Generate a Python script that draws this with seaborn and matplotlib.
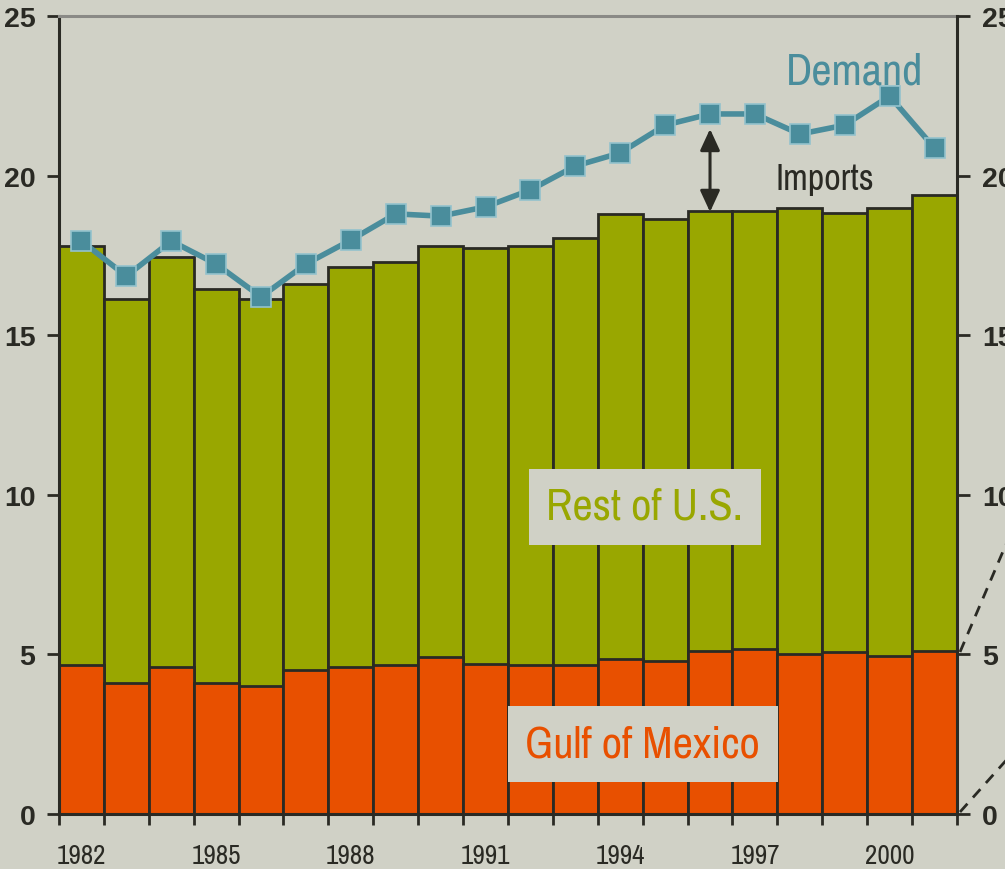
import numpy as np
import pandas as pd
import matplotlib
matplotlib.use("Agg")
import matplotlib.pyplot as plt
from matplotlib.lines import Line2D
import seaborn as sns

# Natural gas: production by region and total demand (trillion cubic feet)
years = list(range(1982, 2002))
gulf_of_mexico = [4.67, 4.10, 4.60, 4.10, 4.01, 4.51, 4.60, 4.68, 4.92, 4.70,
                  4.67, 4.67, 4.86, 4.79, 5.10, 5.17, 5.01, 5.08, 4.95, 5.10]
total_production = [17.79, 16.13, 17.45, 16.45, 16.13, 16.60, 17.14, 17.29, 17.79, 17.72,
                    17.79, 18.04, 18.80, 18.64, 18.89, 18.89, 18.98, 18.83, 18.98, 19.39]
demand = [17.95, 16.85, 17.95, 17.23, 16.20, 17.23, 17.98, 18.80, 18.73, 19.02,
          19.55, 20.30, 20.71, 21.58, 21.93, 21.93, 21.30, 21.58, 22.49, 20.86]
labeled_years = [1982, 1985, 1988, 1991, 1994, 1997, 2000]
y_ticks = [0, 5, 10, 15, 20, 25]

BG = "#d0d1c6"
OLIVE = "#99a700"
ORANGE = "#e85000"
TEAL = "#4a8d9c"
INK = "#2a2a24"

NARROW = ["Archivo Narrow", "PT Sans Narrow", "DejaVu Sans"]
BOLD_TICKS = ["Liberation Sans", "DejaVu Sans"]
plt.rcParams["font.family"] = NARROW

df = pd.DataFrame({"year": years, "gulf": gulf_of_mexico,
                   "total": total_production, "demand": demand})

fig = plt.figure(figsize=(10.05, 8.7), dpi=100, facecolor=BG)
ax = fig.add_axes([0.0587, 0.0632, 0.8935, 0.9173])
ax.set_facecolor(BG)

bar_kw = dict(width=1.0, saturation=1, edgecolor=INK, linewidth=2.0, ax=ax)
sns.barplot(data=df, x="year", y="total", color=OLIVE, **bar_kw)
sns.barplot(data=df, x="year", y="gulf", color=ORANGE, **bar_kw)

xs = np.arange(len(years))
sns.lineplot(x=xs, y=df["demand"].values, color=TEAL, linewidth=4.0, marker="s",
             markersize=15, markerfacecolor=TEAL, markeredgecolor="#93c2cd",
             markeredgewidth=1.2, ax=ax, zorder=5)

ax.set_xlim(-0.5, len(years) - 0.5)
ax.set_ylim(0, 25)
ax.set_xlabel("")
ax.set_ylabel("")

# ticks on bar boundaries, year labels centred under bars
ax.set_xticks(np.arange(len(years) + 1) - 0.5)
ax.set_xticklabels([])
ax.set_xticks([years.index(y) for y in labeled_years], minor=True)
ax.set_xticklabels([str(y) for y in labeled_years], minor=True)
ax.tick_params(axis="x", which="major", length=8, width=2, color=INK, direction="out")
ax.tick_params(axis="x", which="minor", length=0, pad=21, labelsize=19.5, labelcolor=INK)

ax.set_yticks(y_ticks)
ax.set_yticklabels([str(v) for v in y_ticks], fontweight="bold", family=BOLD_TICKS)
ax.tick_params(axis="y", length=9, width=2, color=INK, pad=8, labelsize=20.5, labelcolor=INK)

for side in ("left", "bottom"):
    ax.spines[side].set_color(INK)
    ax.spines[side].set_linewidth(2.2)
ax.spines["right"].set_visible(False)
ax.spines["top"].set_color("#8a8a86")
ax.spines["top"].set_linewidth(2.2)

ax2 = ax.twinx()
ax2.set_ylim(0, 25)
ax2.set_yticks(y_ticks)
ax2.set_yticklabels([str(v) for v in y_ticks], fontweight="bold", family=BOLD_TICKS)
ax2.tick_params(axis="y", length=9, width=2, color=INK, pad=9, labelsize=20.5, labelcolor=INK)
for side in ("left", "top", "bottom"):
    ax2.spines[side].set_visible(False)
ax2.spines["right"].set_color(INK)
ax2.spines["right"].set_linewidth(2.2)

# annotations
ax.text(17.23, 22.87, "Demand", color=TEAL, fontsize=32, ha="center", va="baseline", zorder=6)

imp_x = years.index(1996)
ax.annotate("", xy=(imp_x, total_production[imp_x] - 0.03), xytext=(imp_x, 21.46),
            arrowprops=dict(arrowstyle="<|-|>,head_length=1.3,head_width=0.6",
                            color=INK, lw=2.2, shrinkA=0, shrinkB=0), zorder=6)
ax.text(15.45, 19.9, "Imports", color=INK, fontsize=26, ha="left", va="center", zorder=6)

ax.text(12.55, 9.62, "Rest of U.S.", color=OLIVE, fontsize=32, ha="center", va="center",
        zorder=6, bbox=dict(boxstyle="square,pad=0.4", fc=BG, ec="none"))
ax.text(12.5, 2.19, "Gulf of Mexico", color=ORANGE, fontsize=32, ha="center", va="center",
        zorder=6, bbox=dict(boxstyle="square,pad=0.4", fc=BG, ec="none"))

# dashed leader lines running off to the right of the chart
W, H = 1005.0, 870.0
for (x0, y0), (x1, y1) in [((960, 653), (1010, 536)), ((960, 813), (1010, 757))]:
    fig.add_artist(Line2D([x0 / W, x1 / W], [1 - y0 / H, 1 - y1 / H],
                          transform=fig.transFigure, color=INK, lw=2.0,
                          linestyle=(0, (4, 3))))

fig.savefig("out.png", dpi=100, facecolor=BG)
